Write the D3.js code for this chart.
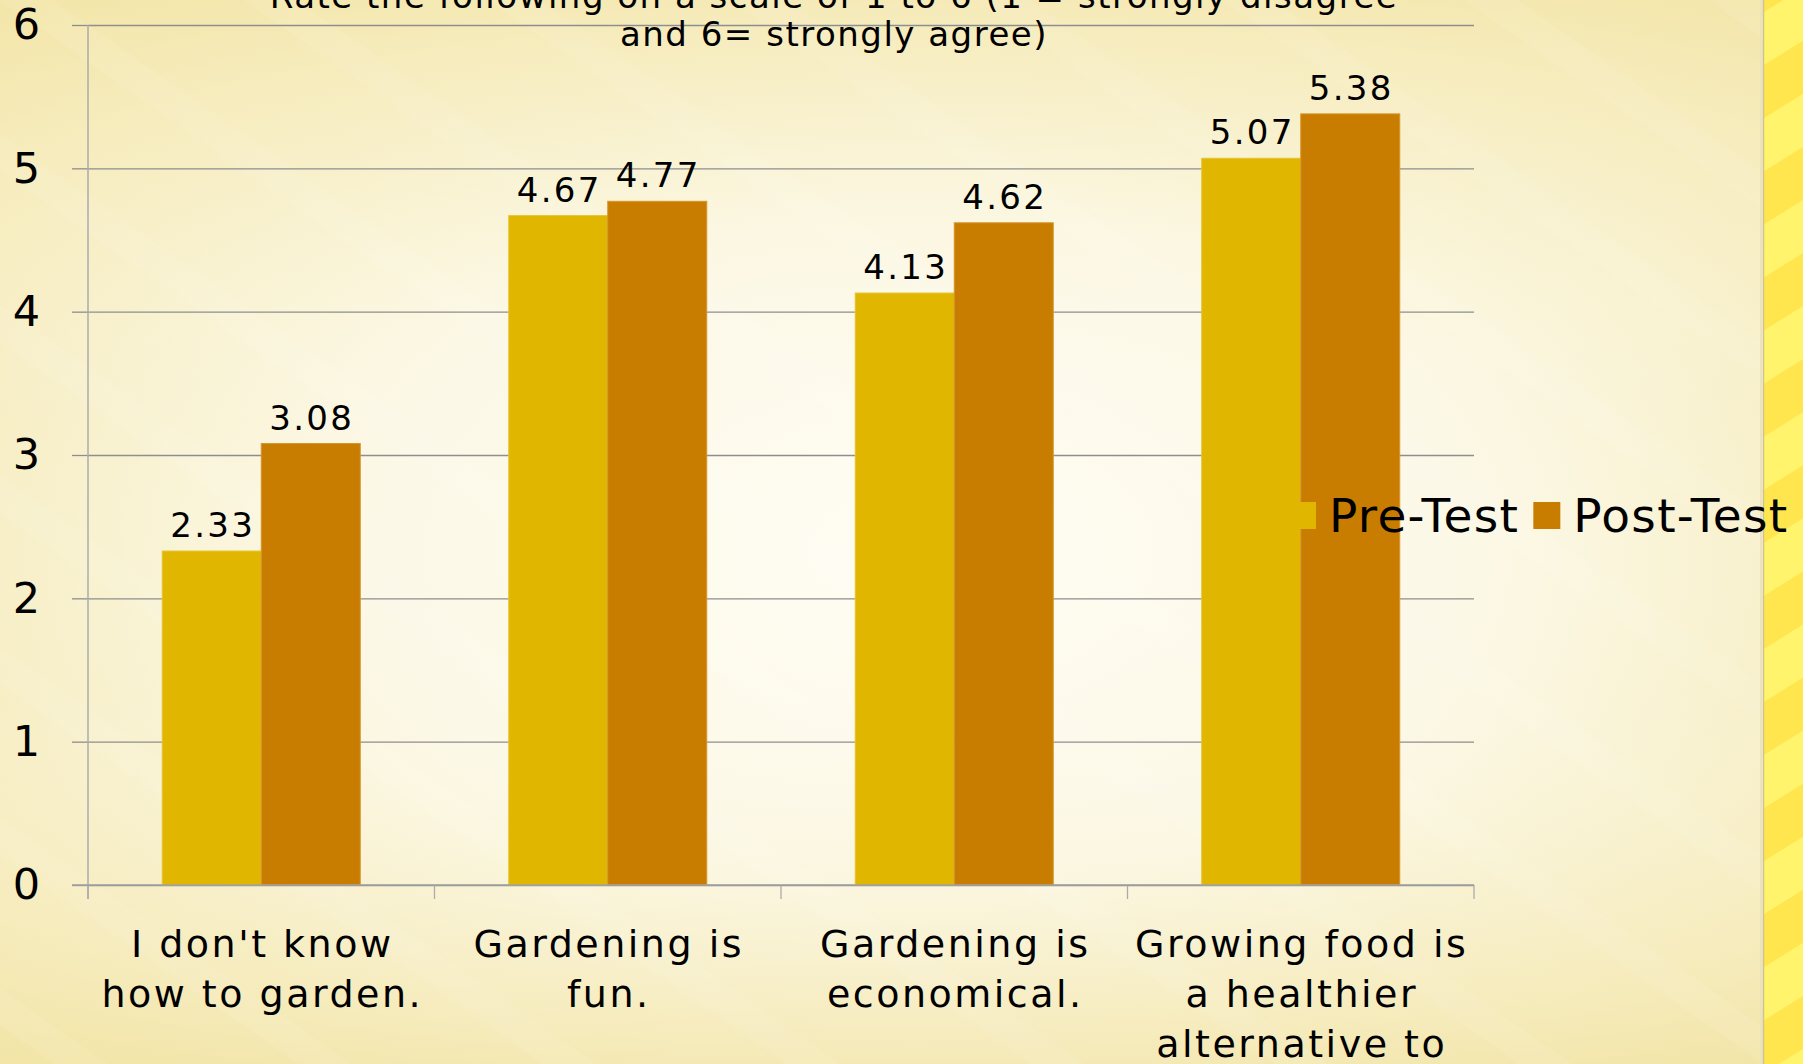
<!DOCTYPE html>
<html>
<head>
<meta charset="utf-8">
<script src="https://cdn.jsdelivr.net/npm/d3@7"></script>
<style>
  html, body { margin: 0; padding: 0; background: #f6eebf; }
  svg { display: block; font-family: "DejaVu Sans", Verdana, sans-serif; }
</style>
</head>
<body>
<svg id="chart" width="1803" height="1064"></svg>
<script>
// ---- data ----
const categories = [
  "I don't know how to garden.",
  "Gardening is fun.",
  "Gardening is economical.",
  "Growing food is a healthier alternative to"
];
const categoryLines = [
  ["I don't know", "how to garden."],
  ["Gardening is", "fun."],
  ["Gardening is", "economical."],
  ["Growing food is", "a healthier", "alternative to"]
];
const seriesNames = ["Pre-Test", "Post-Test"];
const preTest = [2.33, 4.67, 4.13, 5.07];
const postTest = [3.08, 4.77, 4.62, 5.38];
const yTicks = [0, 1, 2, 3, 4, 5, 6];
const titleLines = [
  "Rate the following on a scale of 1 to 6 (1 = strongly disagree",
  "and 6= strongly agree)"
];
const seriesColors = ["#e0b600", "#c87d00"];
const seriesStrokes = ["#e6c32e", "#d7952e"];

// ---- layout ----
const W = 1803, H = 1064;
const plotL = 88, plotR = 1474, plotT = 25, plotB = 885;
const svg = d3.select("#chart");
const defs = svg.append("defs");

// background gradients
const rg = defs.append("radialGradient").attr("id", "bg")
  .attr("cx", "52%").attr("cy", "52%").attr("r", "72%");
rg.append("stop").attr("offset", "0%").attr("stop-color", "#fffdf4");
rg.append("stop").attr("offset", "45%").attr("stop-color", "#fcf8e6");
rg.append("stop").attr("offset", "100%").attr("stop-color", "#f3e6a9");

const vg = defs.append("linearGradient").attr("id", "vbg")
  .attr("x1", 0).attr("y1", 0).attr("x2", 0).attr("y2", 1);
vg.append("stop").attr("offset", "0%").attr("stop-color", "#f3e6aa").attr("stop-opacity", 0.55);
vg.append("stop").attr("offset", "40%").attr("stop-color", "#fffdf5").attr("stop-opacity", 0);
vg.append("stop").attr("offset", "65%").attr("stop-color", "#fffdf5").attr("stop-opacity", 0);
vg.append("stop").attr("offset", "100%").attr("stop-color", "#f1e3a3").attr("stop-opacity", 0.55);

const streak = defs.append("pattern").attr("id", "streak")
  .attr("patternUnits", "userSpaceOnUse").attr("width", 140).attr("height", 140)
  .attr("patternTransform", "rotate(-55)");
streak.append("rect").attr("width", 140).attr("height", 140).attr("fill", "none");
streak.append("rect").attr("x", 0).attr("y", 0).attr("width", 30).attr("height", 140)
  .attr("fill", "#ffffff").attr("opacity", 0.07);

const stripes = defs.append("pattern").attr("id", "stripes")
  .attr("patternUnits", "userSpaceOnUse").attr("width", 90).attr("height", 90)
  .attr("patternTransform", "rotate(-32)");
stripes.append("rect").attr("width", 90).attr("height", 45).attr("fill", "#ffe64e");
stripes.append("rect").attr("y", 45).attr("width", 90).attr("height", 45).attr("fill", "#fff46c");

svg.append("rect").attr("width", 1763).attr("height", H).attr("fill", "url(#bg)");
svg.append("rect").attr("width", 1763).attr("height", H).attr("fill", "url(#vbg)");
svg.append("rect").attr("width", 1763).attr("height", H).attr("fill", "url(#streak)");
svg.append("rect").attr("x", 1763).attr("width", W - 1763).attr("height", H).attr("fill", "url(#stripes)");
svg.append("line").attr("x1", 1763.5).attr("x2", 1763.5).attr("y1", 0).attr("y2", H)
  .attr("stroke", "#cfc48e").attr("stroke-width", 1.5);
svg.append("line").attr("x1", 1761).attr("x2", 1761).attr("y1", 0).attr("y2", H)
  .attr("stroke", "#ece3bd").attr("stroke-width", 2);

// ---- scales ----
const x = d3.scaleBand().domain(categories).range([plotL, plotR]).paddingInner(0).paddingOuter(0);
const x1 = d3.scaleBand().domain(seriesNames).range([0, x.bandwidth()]).paddingInner(0).paddingOuter(0.75);
const y = d3.scaleLinear().domain([0, 6]).range([plotB, plotT]);

// gridlines
svg.append("g").attr("transform", `translate(${plotL},0)`)
  .call(d3.axisLeft(y).tickValues(yTicks).tickSize(-(plotR - plotL)).tickFormat(""))
  .call(g => g.select(".domain").remove())
  .call(g => g.selectAll("line").attr("stroke", "#8e8e8e").attr("stroke-width", 1.3));

// y axis
svg.append("g").attr("transform", `translate(${plotL},0)`)
  .call(d3.axisLeft(y).tickValues(yTicks).tickSize(16).tickPadding(32).tickFormat(d3.format("d")))
  .call(g => g.select(".domain").remove())
  .call(g => g.selectAll("line").attr("stroke", "#8e8e8e").attr("stroke-width", 1.3))
  .call(g => g.selectAll("text").attr("font-size", 43).attr("fill", "#000")
    .attr("font-family", "DejaVu Sans, Verdana, sans-serif"));

// vertical axis line
svg.append("line").attr("x1", plotL).attr("x2", plotL).attr("y1", plotT).attr("y2", plotB + 14)
  .attr("stroke", "#ababab").attr("stroke-width", 1.5);

// category boundary ticks
const bounds = categories.map(c => x(c)).concat([x(categories[categories.length - 1]) + x.bandwidth()]);
svg.append("g").selectAll("line").data(bounds).join("line")
  .attr("x1", d => d).attr("x2", d => d).attr("y1", plotB).attr("y2", plotB + 14)
  .attr("stroke", "#ababab").attr("stroke-width", 1.3);

// bars
const rows = categories.map((c, i) => ({ c, i, vals: [preTest[i], postTest[i]] }));
const groups = svg.append("g").selectAll("g").data(rows).join("g")
  .attr("transform", d => `translate(${x(d.c)},0)`);
groups.selectAll("rect").data(d => d.vals.map((v, k) => ({ v, k }))).join("rect")
  .attr("x", d => x1(seriesNames[d.k]))
  .attr("y", d => y(d.v))
  .attr("width", x1.bandwidth())
  .attr("height", d => y(0) - y(d.v))
  .attr("fill", d => seriesColors[d.k])
  .attr("stroke", d => seriesStrokes[d.k]).attr("stroke-width", 1);

// axis baseline
svg.append("line").attr("x1", plotL - 16).attr("x2", plotR).attr("y1", plotB).attr("y2", plotB)
  .attr("stroke", "#a0a0a0").attr("stroke-width", 1.5);

// data labels
groups.selectAll("text.val").data(d => d.vals.map((v, k) => ({ v, k }))).join("text")
  .attr("class", "val")
  .attr("x", d => x1(seriesNames[d.k]) + x1.bandwidth() / 2 + 1)
  .attr("y", d => y(d.v) - 14)
  .attr("text-anchor", "middle")
  .attr("font-size", 34).attr("letter-spacing", 2.3).attr("fill", "#000")
  .text(d => d3.format(".2f")(d.v));

// category labels
const cl = svg.append("g").selectAll("text").data(rows).join("text")
  .attr("text-anchor", "middle")
  .attr("font-size", 38).attr("letter-spacing", 2.5).attr("fill", "#000");
cl.selectAll("tspan").data(d => categoryLines[d.i].map(t => ({ t, c: d.c }))).join("tspan")
  .attr("x", d => x(d.c) + x.bandwidth() / 2 + 1)
  .attr("y", (d, j) => 957 + j * 50)
  .text(d => d.t);

// title
svg.append("g").selectAll("text").data(titleLines).join("text")
  .attr("x", 834).attr("y", (d, i) => 8 + i * 38)
  .attr("text-anchor", "middle")
  .attr("font-size", 34).attr("letter-spacing", 1.5).attr("fill", "#000")
  .text(d => d);

// legend
const legend = svg.append("g");
let lx = 1289;
seriesNames.forEach((name, k) => {
  legend.append("rect").attr("x", lx).attr("y", 502).attr("width", 27).attr("height", 27)
    .attr("fill", seriesColors[k]);
  const t = legend.append("text").attr("x", lx + 40).attr("y", 532)
    .attr("font-size", 47).attr("letter-spacing", 1.3).attr("fill", "#000").text(name);
  lx = lx + 40 + t.node().getComputedTextLength() + 14;
});
</script>
</body>
</html>
